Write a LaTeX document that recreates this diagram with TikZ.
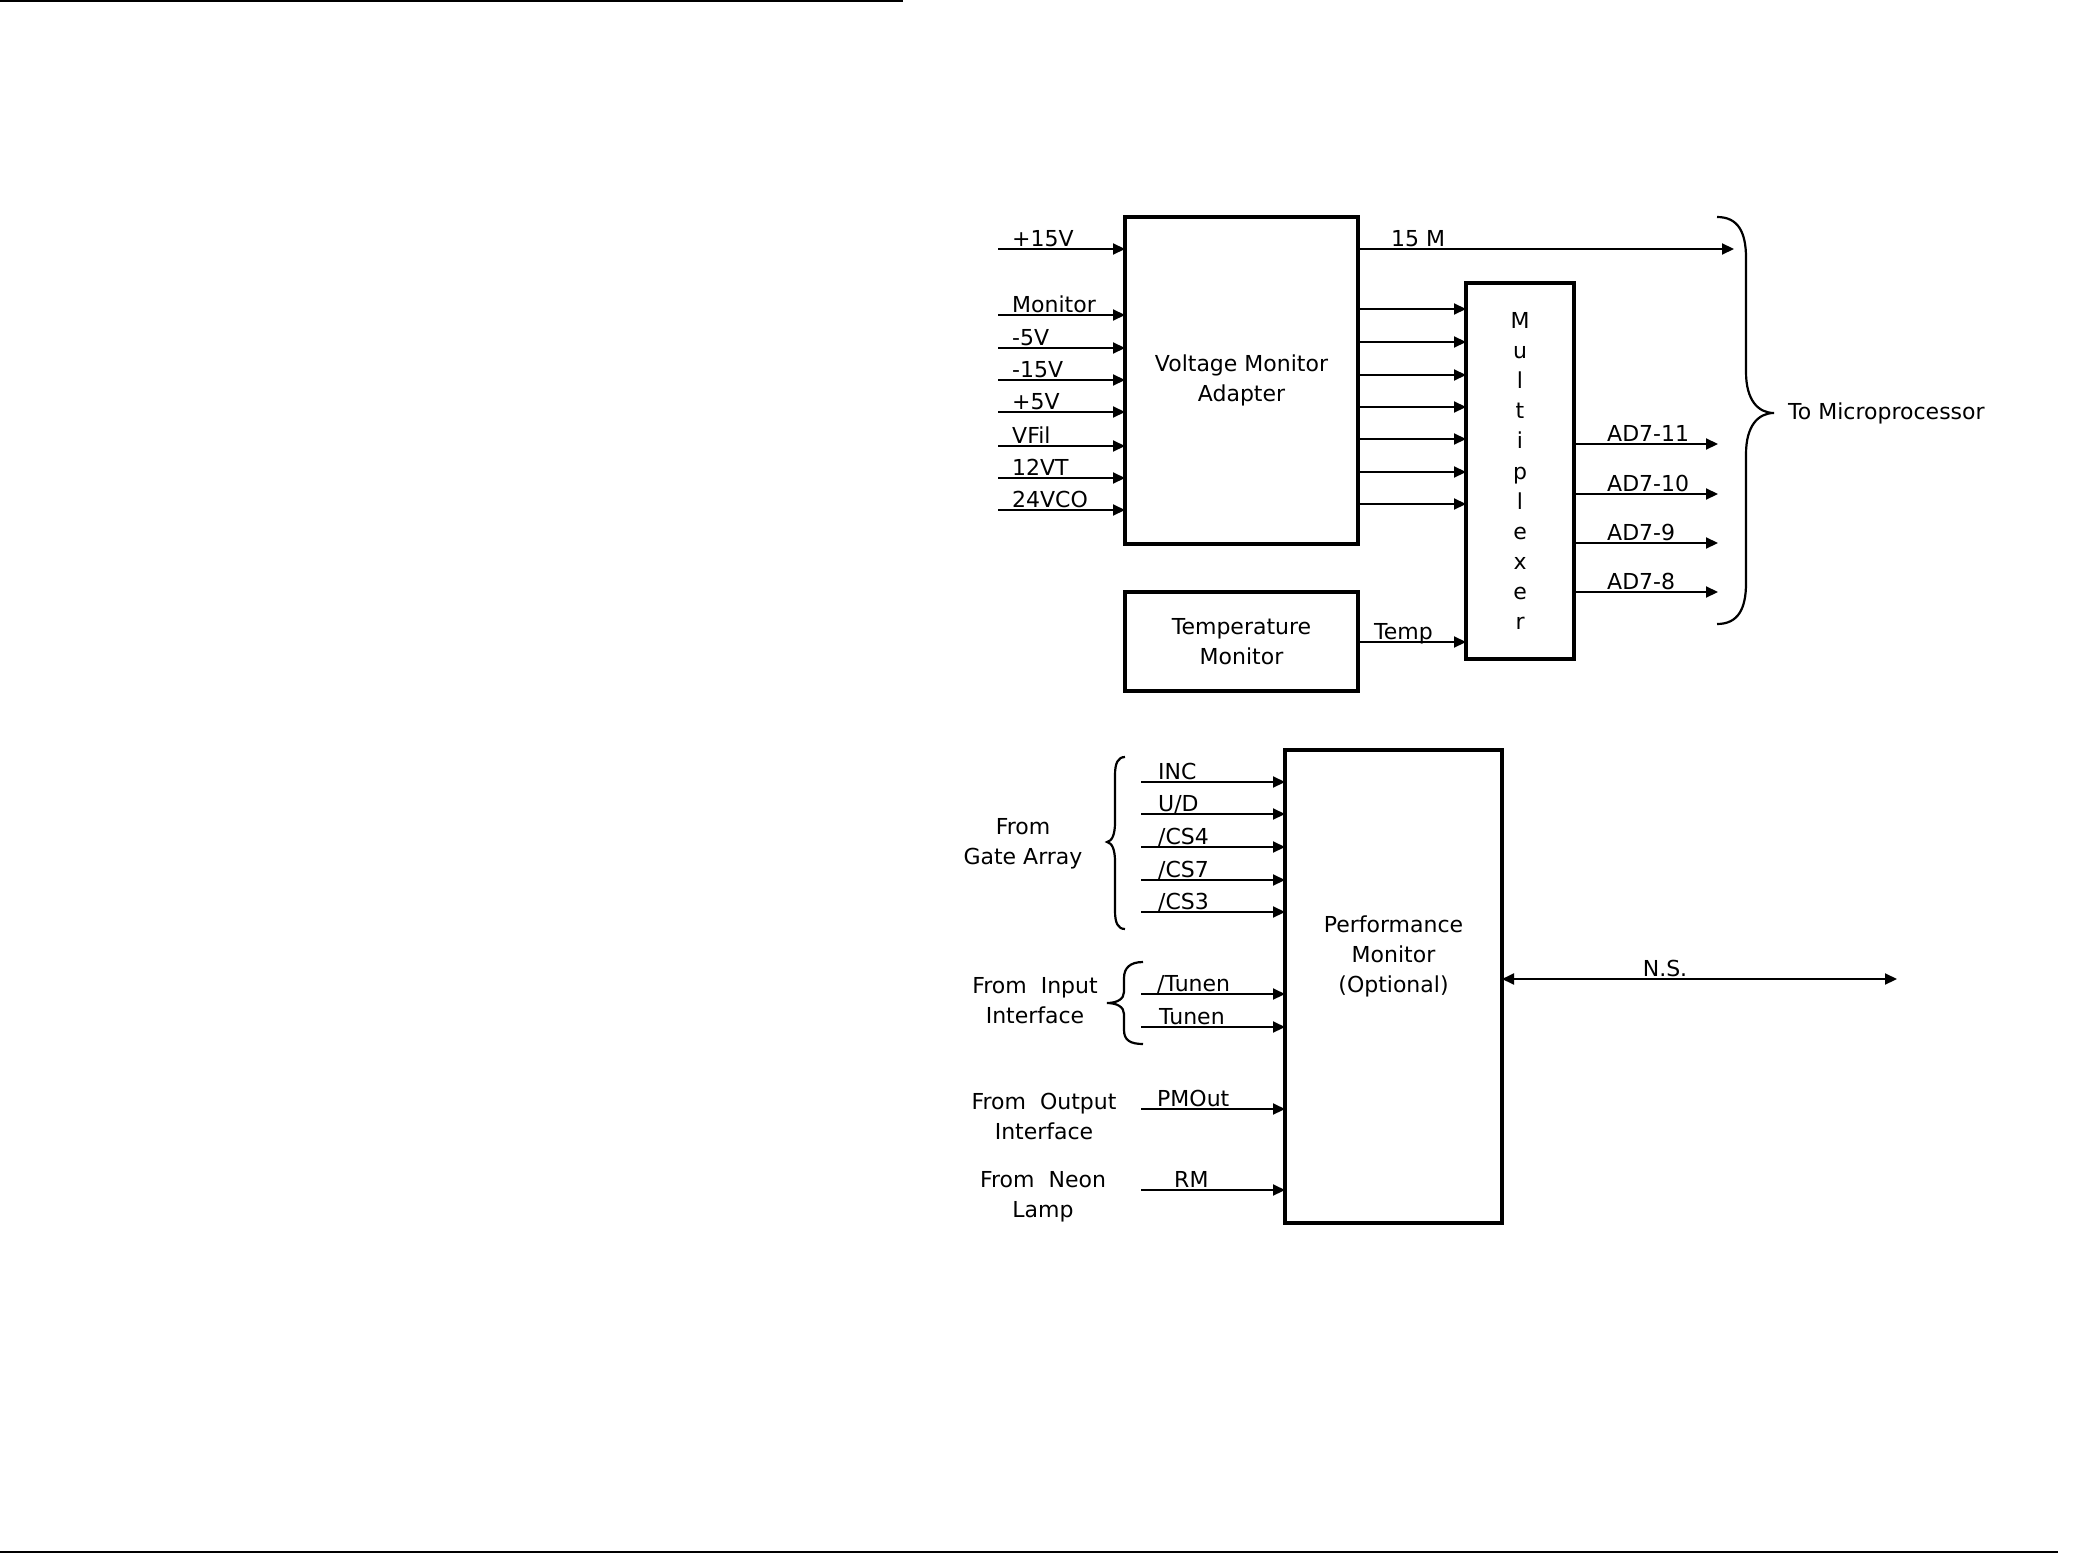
\documentclass[tikz,border=0pt]{standalone}
\usepackage{fontspec}
\setmainfont{DejaVu Sans}
\usetikzlibrary{arrows.meta}
\begin{document}
\begin{tikzpicture}[x=1pt,y=-1pt,
  blk/.style={draw,line width=3.5pt,inner sep=0pt,outer sep=0pt},
  wire/.style={line width=2pt,-{Triangle[length=12pt,width=11pt]}},
  lab/.style={anchor=base west,font=\fontsize{22}{26}\selectfont,inner sep=0pt},
  txt/.style={font=\fontsize{22}{30}\selectfont,align=center,inner sep=0pt},
  bracestyle/.style={line width=2.2pt},
  rule/.style={line width=2pt}]
\useasboundingbox (0,0) rectangle (2092,1554);
% page rules
\coordinate (r1a) at (0,1.5); \coordinate (r1b) at (903,1.5);
\coordinate (r2a) at (0,1552); \coordinate (r2b) at (2058,1552);
\draw[rule] (r1a) -- (r1b);
\draw[rule] (r2a) -- (r2b);
% blocks
\node[blk,minimum width=233pt,minimum height=327pt,txt] (vma) at (1241.5,380.5) {Voltage Monitor\\Adapter};
\node[blk,minimum width=108pt,minimum height=376pt] (mux) at (1520,471) {};
\node[txt,font=\fontsize{22}{30.1}\selectfont] (muxt) at (mux.center) {M\\u\\l\\t\\i\\p\\l\\e\\x\\e\\r};
\node[blk,minimum width=233pt,minimum height=99pt,txt] (tmp) at (1241.5,641.5) {Temperature\\Monitor};
\node[blk,minimum width=217pt,minimum height=473pt] (pm) at (1393.5,986.5) {};
\node[txt] (pmt) at (1393.5,956) {Performance\\Monitor\\(Optional)};
% VMA inputs
\foreach \n/\yy/\t in {a/249/+15V,b/315/Monitor,c/348/-5V,d/380/-15V,e/412/+5V,f/446/VFil,g/478/12VT,h/510/24VCO}{
  \coordinate (in\n) at (998,\yy);
  \draw[wire] (in\n) -- (in\n -| vma.west);
  \node[lab] (lin\n) at ([shift={(14,-2.5)}]in\n) {\t};
}
% VMA -> MUX
\foreach \n/\yy in {a/309,b/342,c/375,d/407,e/439,f/472,g/504}{
  \coordinate (vo\n) at (vma.east |- 0,\yy);
  \draw[wire] (vo\n) -- (vo\n -| mux.west);
}
% 15 M
\coordinate (m15s) at (vma.east |- 0,249);
\coordinate (m15) at (1734,249);
\draw[wire] (m15s) -- (m15);
\node[lab] (lm15) at ([shift={(33,-2.5)}]m15s) {15 M};
% Temp
\coordinate (tps) at (tmp.east |- 0,642);
\draw[wire] (tps) -- (tps -| mux.west);
\node[lab] (ltp) at ([shift={(16,-2.5)}]tps) {Temp};
% MUX outputs
\foreach \n/\yy/\t in {a/444/AD7-11,b/494/AD7-10,c/543/AD7-9,d/592/AD7-8}{
  \coordinate (mo\n) at (mux.east |- 0,\yy);
  \coordinate (me\n) at (1718,\yy);
  \draw[wire] (mo\n) -- (me\n);
  \node[lab] (lmo\n) at ([shift={(33,-2.5)}]mo\n) {\t};
}
% big brace
\draw[bracestyle] (1717,217) .. controls (1738,217) and (1746,232) .. (1746,258)
  -- (1746,372) .. controls (1746,400) and (1758,413) .. (1774,413)
  .. controls (1758,413) and (1746,426) .. (1746,454)
  -- (1746,583) .. controls (1746,609) and (1738,624) .. (1717,624);
\node[anchor=west,font=\fontsize{22}{26}\selectfont,inner sep=0pt] (tomp) at (1788,413) {To Microprocessor};
% PM inputs
\foreach \n/\yy/\t/\dx in {a/782/{INC}/17,b/814/{U/D}/17,c/847/{/CS4}/17,d/880/{/CS7}/17,e/912/{/CS3}/17,f/994/{/Tunen}/16,g/1027/{Tunen}/18,h/1109/{PMOut}/16,i/1190/{RM}/33}{
  \coordinate (pi\n) at (1141,\yy);
  \draw[wire] (pi\n) -- (pi\n -| pm.west);
  \node[lab] (lpi\n) at ([shift={(\dx,-2.5)}]pi\n) {\t};
}
% N.S.
\coordinate (nss) at (pm.east |- 0,979);
\coordinate (nse) at (1897,979);
\draw[line width=2pt,{Triangle[length=12pt,width=11pt]}-{Triangle[length=12pt,width=11pt]}] (nss) -- (nse);
\node[anchor=base,font=\fontsize{22}{26}\selectfont,inner sep=0pt] (lns) at (1665,976.5) {N.S.};
% left braces
\draw[bracestyle] (1125,757) .. controls (1118,757) and (1115,763) .. (1115,775)
  -- (1115,822) .. controls (1115,835) and (1112,841) .. (1107,842)
  .. controls (1112,843) and (1115,849) .. (1115,862)
  -- (1115,911) .. controls (1115,923) and (1118,929) .. (1125,929);
\draw[bracestyle] (1143,962) .. controls (1130,962) and (1124,968) .. (1124,978)
  -- (1124,992) .. controls (1124,999) and (1117,1003) .. (1107,1003)
  .. controls (1117,1003) and (1124,1007) .. (1124,1014)
  -- (1124,1030) .. controls (1124,1040) and (1130,1044) .. (1143,1044);
% side labels
\node[txt] (fga) at (1023,844) {From\\Gate Array};
\node[txt] (fii) at (1035,1001) {From~ Input\\Interface};
\node[txt] (foi) at (1044,1116) {From~ Output\\Interface};
\node[txt] (fnl) at (1043,1197) {From~ Neon\\Lamp};
\end{tikzpicture}
\end{document}
